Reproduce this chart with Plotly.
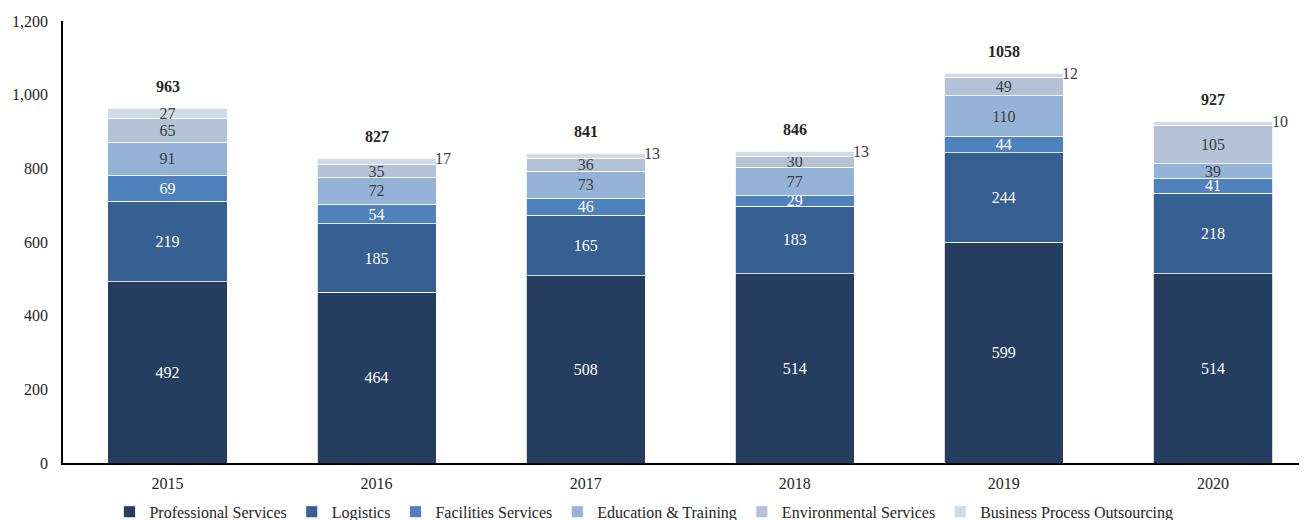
import plotly.graph_objects as go

years = ["2015", "2016", "2017", "2018", "2019", "2020"]
professional = [492, 464, 508, 514, 599, 514]
logistics = [219, 185, 165, 183, 244, 218]
facilities = [69, 54, 46, 29, 44, 41]
education = [91, 72, 73, 77, 110, 39]
environmental = [65, 35, 36, 30, 49, 105]
bpo = [27, 17, 13, 13, 12, 10]
bpo_inside = [True, False, False, False, False, False]

series = [
    ("Professional Services", professional, "#253E5F", "white"),
    ("Logistics", logistics, "#366092", "white"),
    ("Facilities Services", facilities, "#4F81BD", "white"),
    ("Education & Training", education, "#95B3D7", "#404040"),
    ("Environmental Services", environmental, "#B3C2D6", "#404040"),
    ("Business Process Outsourcing", bpo, "#D0DBE7", "#404040"),
]

FONT = "Liberation Serif, Times New Roman, serif"
FS = 16
BAR_W = 0.57

fig = go.Figure()
for name, vals, color, tcol in series:
    if name == "Business Process Outsourcing":
        texts = [str(v) if ins else "" for v, ins in zip(vals, bpo_inside)]
    else:
        texts = [str(v) for v in vals]
    fig.add_trace(go.Bar(
        name=name, x=years, y=vals, width=BAR_W,
        marker=dict(color=color, line=dict(color="white", width=0.8)),
        text=texts, textposition="inside", insidetextanchor="middle",
        textangle=0, constraintext="none",
        textfont=dict(family=FONT, size=FS, color=tcol),
        hoverinfo="skip",
    ))

totals = [sum(v) for v in zip(professional, logistics, facilities, education, environmental, bpo)]

annotations = []
for i, (yr, tot) in enumerate(zip(years, totals)):
    annotations.append(dict(
        x=i, y=tot, xref="x", yref="y", text="<b>%d</b>" % tot,
        showarrow=False, yanchor="middle", yshift=22,
        font=dict(family=FONT, size=FS, color="#262626"),
    ))
    if not bpo_inside[i]:
        annotations.append(dict(
            x=i + BAR_W / 2, y=tot, xref="x", yref="y", text=str(bpo[i]),
            showarrow=False, xanchor="left", yanchor="middle", xshift=-3,
            font=dict(family=FONT, size=FS, color="#404040"),
        ))

fig.update_layout(
    barmode="stack",
    width=1307, height=520,
    margin=dict(l=55, r=8, t=13, b=65, autoexpand=False),
    plot_bgcolor="white", paper_bgcolor="white",
    font=dict(family=FONT, size=FS, color="#262626"),
    annotations=annotations,
    showlegend=True,
    legend=dict(
        orientation="h", x=0.467, xanchor="center", y=-0.072, yanchor="top",
        font=dict(family=FONT, size=FS, color="#262626"),
        traceorder="normal", itemwidth=30,
    ),
    xaxis=dict(
        type="category", range=[-0.5, 5.45], automargin=False,
        showline=True, linecolor="black", linewidth=1.5,
        ticks="", tickfont=dict(family=FONT, size=FS, color="#262626"),
        ticklabelstandoff=5, showgrid=False, zeroline=False,
    ),
    yaxis=dict(
        range=[0, 1200], tickvals=[0, 200, 400, 600, 800, 1000, 1200],
        tickformat=",", showline=True, linecolor="black", linewidth=1.5,
        ticks="", ticklabelstandoff=10, showgrid=False, zeroline=False,
        automargin=False,
        tickfont=dict(family=FONT, size=FS, color="#262626"),
    ),
)

fig.write_html("out.html")
